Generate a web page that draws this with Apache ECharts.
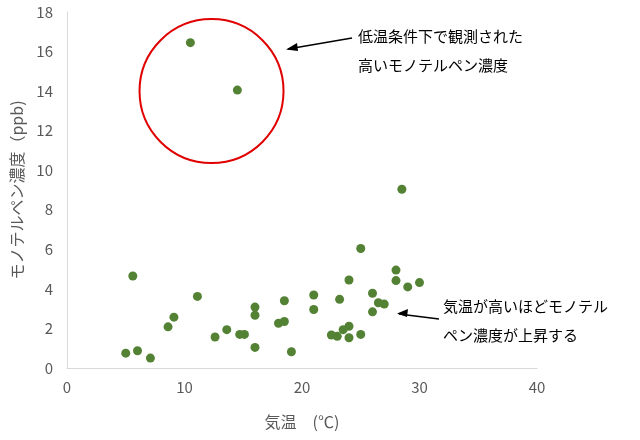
<!DOCTYPE html><html><head><meta charset="utf-8"><script src="https://cdn.jsdelivr.net/npm/echarts@6/dist/echarts.min.js"></script></head><body style="margin:0"><div id="c" style="width:640px;height:440px"></div><script>
const temps=[5.0,5.6,6.0,7.1,8.6,9.1,11.1,12.6,13.6,14.7,15.1,16.0,16.0,16.0,18.0,18.5,18.5,19.1,21.0,21.0,22.5,23.0,23.2,23.5,24.0,24.0,24.0,25.0,25.0,26.0,26.0,26.5,27.0,28.0,28.0,28.5,29.0,30.0,10.5,14.5];
const conc=[0.75,4.65,0.87,0.5,2.08,2.57,3.62,1.57,1.94,1.7,1.7,3.08,2.67,1.04,2.26,2.35,3.4,0.82,3.69,2.96,1.67,1.6,3.47,1.94,2.11,1.53,4.45,6.04,1.7,3.78,2.84,3.3,3.23,4.95,4.42,9.04,4.1,4.32,16.45,14.05];
const chart=echarts.init(document.getElementById('c'));
const F='"Noto Sans CJK JP",sans-serif';
chart.setOption({animation:false,
grid:{left:67,right:103,top:12,bottom:72},
xAxis:{type:'value',min:0,max:40,interval:10,axisLine:{lineStyle:{color:'#d9d9d9'}},axisTick:{show:false},splitLine:{show:false},axisLabel:{color:'#595959',fontSize:15,fontFamily:F,margin:12},
name:'気温　(℃)',nameLocation:'middle',nameGap:46,nameTextStyle:{color:'#595959',fontSize:16,fontFamily:F}},
yAxis:{type:'value',min:0,max:18,interval:2,axisLine:{show:true,lineStyle:{color:'#d9d9d9'}},axisTick:{show:false},splitLine:{show:false},axisLabel:{color:'#595959',fontSize:15,fontFamily:F,margin:14},
name:'モノテルペン濃度（ppb)',nameLocation:'middle',nameGap:42,nameTextStyle:{color:'#595959',fontSize:16,fontFamily:F}},
series:[{type:'scatter',symbolSize:9,itemStyle:{color:'#548235',opacity:1},data:temps.map((t,i)=>[t,conc[i]])}]});
const c=chart.convertToPixel({gridIndex:0},[12.3,14.0]);
chart.setOption({graphic:[
{type:'circle',shape:{cx:c[0],cy:c[1],r:72},style:{fill:'none',stroke:'#e00000',lineWidth:2}},
{type:'line',shape:{x1:352,y1:38,x2:288,y2:49},style:{stroke:'#000',lineWidth:1.5}},
{type:'polygon',shape:{points:[[286,49.5],[297,43],[298,51]]},style:{fill:'#000'}},
{type:'text',left:358,top:22,style:{text:'低温条件下で観測された\n高いモノテルペン濃度',fontSize:15,lineHeight:29,fontFamily:F,fill:'#000'}},
{type:'line',shape:{x1:439,y1:319,x2:399,y2:314},style:{stroke:'#000',lineWidth:1.5}},
{type:'polygon',shape:{points:[[397,313.5],[408,309],[407,317]]},style:{fill:'#000'}},
{type:'text',left:443,top:292,style:{text:'気温が高いほどモノテル\nペン濃度が上昇する',fontSize:15,lineHeight:29,fontFamily:F,fill:'#000'}}
]});
</script></body></html>
